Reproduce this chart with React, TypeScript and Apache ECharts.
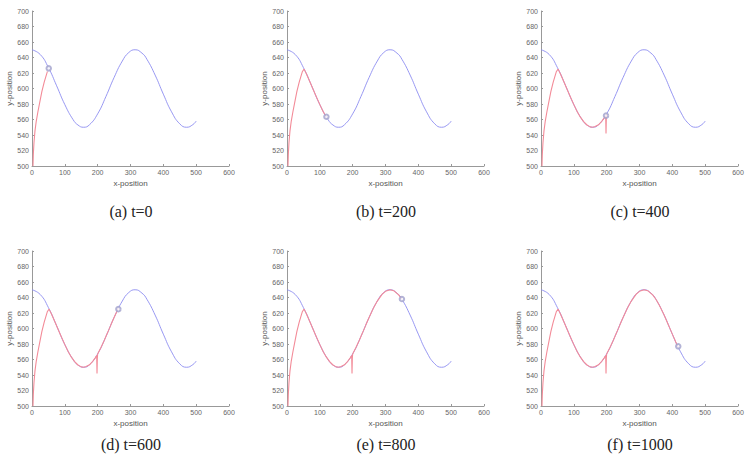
import React, { useEffect, useRef } from "react";
import * as echarts from "echarts";

// Blue reference path (x, y)
const blueX = [0, 25, 50, 75, 100, 125, 140, 157, 175, 200, 225, 250, 275, 295, 314, 335, 350, 375, 400, 425, 450, 471, 490, 500];
const blueY = [650, 643.9, 627, 603.5, 579.2, 559.9, 552.9, 550, 553.2, 567.3, 589.5, 614.2, 635.4, 646.5, 650, 645.6, 637.7, 617.3, 592.7, 569.9, 554.4, 550, 553.4, 558];

// Red trajectory (x, y)
const redX = [3, 4, 6, 9, 13, 18, 24, 30, 37, 44, 47, 52, 60, 70, 80, 90, 100, 110, 120, 130, 140, 150, 157, 165, 175, 185, 192, 197, 198, 199, 200, 210, 220, 230, 240, 250, 263, 275, 290, 300, 314, 325, 340, 350, 360, 375, 390, 400, 410, 418];
const redY = [500, 515, 530, 545, 558, 570, 583, 596, 608, 618, 622, 625, 618, 608.5, 598.5, 588.7, 579.2, 570.4, 563, 557.2, 552.9, 550.5, 550, 550.9, 553.2, 557.7, 561.8, 565, 542, 562, 567, 575.5, 584.6, 594.4, 604.4, 614.2, 626.1, 635.4, 644.3, 648, 650, 648.8, 643.4, 637.7, 630.4, 617.3, 602.7, 592.7, 582.8, 575.8];

// Last trajectory index shown in each panel
const redEnds = [10, 18, 30, 36, 43, 49];
// Marker (current position) per panel
const markerX = [51, 120, 198, 263, 350, 418];
const markerY = [626, 563.5, 565, 625, 638, 577];

const captions = ["(a) t=0", "(b) t=200", "(c) t=400", "(d) t=600", "(e) t=800", "(f) t=1000"];

const xTicks = { min: 0, max: 600, interval: 100 };
const yTicks = { min: 500, max: 700, interval: 20 };

const colLefts = [32, 287, 541];
const rowTops = [11, 251];
const plotW = 197;
const plotH = 155;

export default function App() {
  const ref = useRef<HTMLDivElement>(null);
  useEffect(() => {
    if (!ref.current) return;
    const chart = echarts.init(ref.current, null, { renderer: "svg" });
    const grids: any[] = [];
    const xAxes: any[] = [];
    const yAxes: any[] = [];
    const series: any[] = [];
    const graphics: any[] = [];
    const labelStyle = { fontSize: 7, color: "#666", fontFamily: "Liberation Sans" };
    const axisLine = { show: true, lineStyle: { color: "#999", width: 1 } };
    for (let i = 0; i < 6; i++) {
      const col = i % 3;
      const row = Math.floor(i / 3);
      const left = colLefts[col];
      const top = rowTops[row];
      grids.push({ left, top, width: plotW, height: plotH, containLabel: false });
      xAxes.push({
        type: "value",
        gridIndex: i,
        min: xTicks.min,
        max: xTicks.max,
        interval: xTicks.interval,
        name: "x-position",
        nameLocation: "middle",
        nameGap: 13,
        nameTextStyle: { fontSize: 8, color: "#555", fontFamily: "Liberation Sans" },
        axisLine,
        axisTick: { show: true, inside: true, length: 2, lineStyle: { color: "#999" } },
        axisLabel: { ...labelStyle, margin: 3 },
        splitLine: { show: false },
      });
      yAxes.push({
        type: "value",
        gridIndex: i,
        min: yTicks.min,
        max: yTicks.max,
        interval: yTicks.interval,
        name: "y-position",
        nameLocation: "middle",
        nameGap: 17,
        nameTextStyle: { fontSize: 8, color: "#555", fontFamily: "Liberation Sans" },
        axisLine,
        axisTick: { show: true, inside: true, length: 2, lineStyle: { color: "#999" } },
        axisLabel: { ...labelStyle, margin: 3 },
        splitLine: { show: false },
      });
      series.push({
        type: "line",
        xAxisIndex: i,
        yAxisIndex: i,
        data: blueX.map((x, k) => [x, blueY[k]]),
        smooth: 0.5,
        showSymbol: false,
        lineStyle: { color: "#8c8cf0", width: 0.9 },
        z: 2,
      });
      const end = redEnds[i];
      series.push({
        type: "line",
        xAxisIndex: i,
        yAxisIndex: i,
        data: redX.slice(0, end + 1).map((x, k) => [x, redY[k]]),
        smooth: false,
        showSymbol: false,
        lineStyle: { color: "#f38b98", width: 1.1 },
        z: 3,
      });
      series.push({
        type: "scatter",
        xAxisIndex: i,
        yAxisIndex: i,
        data: [[markerX[i], markerY[i]]],
        symbol: "emptyCircle",
        symbolSize: 4.5,
        itemStyle: { color: "#a0a0cc", borderColor: "#a0a0cc", borderWidth: 0.7 },
        z: 4,
      });
      graphics.push({
        type: "text",
        x: left + 99,
        y: row === 0 ? 211 : 444,
        style: {
          text: captions[i],
          fontFamily: "Liberation Serif",
          fontSize: 16,
          fill: "#222",
          textAlign: "center",
          textVerticalAlign: "middle",
        },
      });
    }
    chart.setOption({
      animation: false,
      backgroundColor: "#fff",
      grid: grids,
      xAxis: xAxes,
      yAxis: yAxes,
      series,
      graphic: graphics,
    });
    return () => chart.dispose();
  }, []);
  return (
    <div
      ref={ref}
      style={{ position: "absolute", left: 0, top: 0, width: 753, height: 454 }}
    />
  );
}
